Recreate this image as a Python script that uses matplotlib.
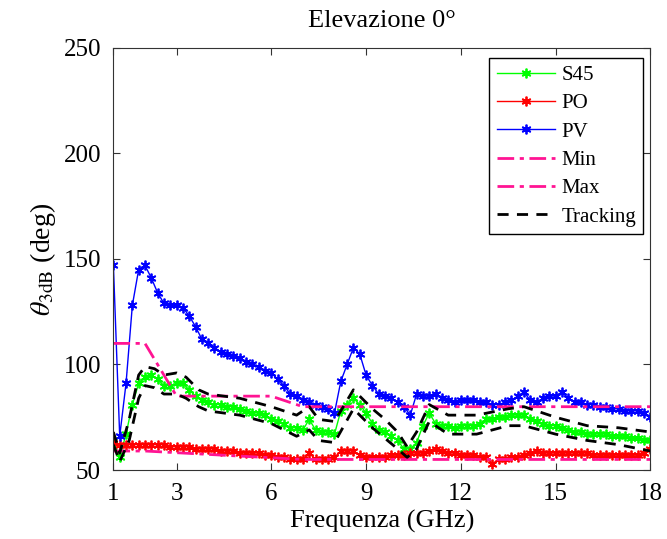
import matplotlib.pyplot as plt
import numpy as np

# Frequenze (GHz), passo 0.2
freq = np.round(np.arange(1.0, 18.01, 0.2), 1)

s45 = [64, 56, 67, 81, 91,
       94, 95, 93, 90, 90,
       91, 91, 88, 85, 83,
       82, 81, 81, 80, 80,
       79, 78, 77, 77, 76,
       74, 73, 72, 70, 70,
       69, 74, 69, 68, 68,
       67, 78, 81, 84, 81,
       77, 72, 69, 68, 66,
       64, 60, 60, 63, 71,
       77, 72, 71, 71, 70,
       71, 71, 71, 72, 74,
       74, 75, 75, 76, 76,
       76, 74, 73, 72, 71,
       71, 70, 69, 68, 68,
       67, 67, 67, 67, 66,
       66, 66, 65, 65, 64,
       64]

po = [63, 62, 62, 62, 62,
      62, 62, 62, 62, 61,
      61, 61, 61, 60, 60,
      60, 60, 59, 59, 59,
      58, 58, 58, 58, 57,
      57, 56, 56, 55, 55,
      55, 58, 55, 55, 55,
      56, 59, 59, 59, 57,
      56, 56, 56, 56, 57,
      57, 57, 58, 58, 58,
      59, 60, 59, 58, 58,
      57, 57, 57, 56, 56,
      53, 55, 55, 56, 56,
      57, 58, 59, 58, 58,
      58, 58, 58, 58, 58,
      58, 57, 57, 57, 57,
      57, 57, 57, 57, 58,
      60]

pv = [147, 66, 91, 128, 145,
      147, 141, 134, 129, 128,
      128, 127, 123, 118, 112,
      110, 108, 106, 105, 104,
      103, 101, 100, 99, 97,
      96, 93, 90, 86, 85,
      83, 82, 81, 80, 79,
      77, 92, 100, 108, 105,
      95, 90, 86, 85, 84,
      82, 80, 76, 86, 85,
      85, 86, 84, 83, 82,
      83, 83, 83, 82, 82,
      81, 81, 82, 83, 85,
      87, 83, 82, 84, 85,
      85, 87, 84, 82, 82,
      81, 81, 80, 80, 79,
      79, 78, 78, 78, 77,
      75]

# Maschere min / max
mask_f = [1.0, 2.0, 3.0, 6.0, 7.0, 18.0]
max_val = [110, 110, 85, 85, 80, 80]
min_f = [1.0, 2.0, 7.0, 18.0]
min_val = [59, 59, 55, 55]

# Tracking (limiti superiore e inferiore)
trk_f = [1.0, 1.2, 1.5, 1.8, 2.0, 2.3, 2.6, 3.0, 3.3, 3.7, 4.0, 5.0, 6.0, 6.8,
         7.2, 7.5, 8.0, 8.6, 9.2, 9.6, 10.0, 10.3, 10.6, 11.0, 11.6, 12.5,
         13.5, 14.0, 15.0, 16.0, 17.0, 18.0]
trk_up = [68, 58, 74, 95, 99, 98, 95, 96, 94, 88, 86, 84, 80, 76,
          80, 74, 73, 88, 79, 74, 68, 61, 68, 81, 76, 76,
          79, 80, 75, 71, 70, 68]
trk_lo = [62, 54, 64, 84, 90, 89, 86, 86, 84, 80, 78, 76, 72, 66,
          69, 64, 63, 79, 70, 65, 60, 56, 60, 73, 67, 67,
          71, 71, 67, 64, 62, 59]

plt.rcParams['font.family'] = ['Liberation Serif', 'DejaVu Serif']
plt.rcParams['mathtext.fontset'] = 'stix'

fig = plt.figure(figsize=(6.67, 5.39), dpi=100)
ax = fig.add_axes([0.170, 0.128, 0.805, 0.783])

magenta = '#FF1493'
star = (6, 2, 0)  # asterisco come in MATLAB
ax.plot(freq, s45, color='#00FF00', marker=star, ms=7, mew=1.3, lw=1, label='S45')
ax.plot(freq, po, color='#FF0000', marker=star, ms=7, mew=1.3, lw=1, label='PO')
ax.plot(freq, pv, color='#0000FF', marker=star, ms=7, mew=1.3, lw=1, label='PV')
ax.plot(min_f, min_val, color=magenta, ls=(0, (6, 2, 1.5, 2)), lw=2, label='Min')
ax.plot(mask_f, max_val, color=magenta, ls=(0, (6, 2, 1.5, 2)), lw=2, label='Max')
ax.plot(trk_f, trk_up, color='black', ls=(0, (4, 3)), lw=2, label='Tracking')
ax.plot(trk_f, trk_lo, color='black', ls=(0, (4, 3)), lw=2)

ax.set_xlim(1, 18)
ax.set_ylim(50, 250)
ax.set_xticks([1, 3, 6, 9, 12, 15, 18])
ax.set_yticks([50, 100, 150, 200, 250])
ax.tick_params(direction='in', top=True, right=True, labelsize=18, length=5,
               color='#333333', pad=9)
for sp in ax.spines.values():
    sp.set_color('#333333')

ax.set_title('Elevazione 0°', fontsize=19, pad=15)
ax.set_xlabel('Frequenza (GHz)', fontsize=19, labelpad=4)
ax.set_ylabel(r'$\theta_{\mathrm{3dB}}$ (deg)', fontsize=20, labelpad=4)

leg = ax.legend(loc='upper right', fontsize=15, fancybox=False, framealpha=1,
                edgecolor='black', handlelength=2.8, borderpad=0.35,
                labelspacing=0.42, handletextpad=0.3, borderaxespad=0,
                bbox_to_anchor=(0.987, 0.976))
leg.get_frame().set_linewidth(1)

fig.savefig('out.png', dpi=100)
